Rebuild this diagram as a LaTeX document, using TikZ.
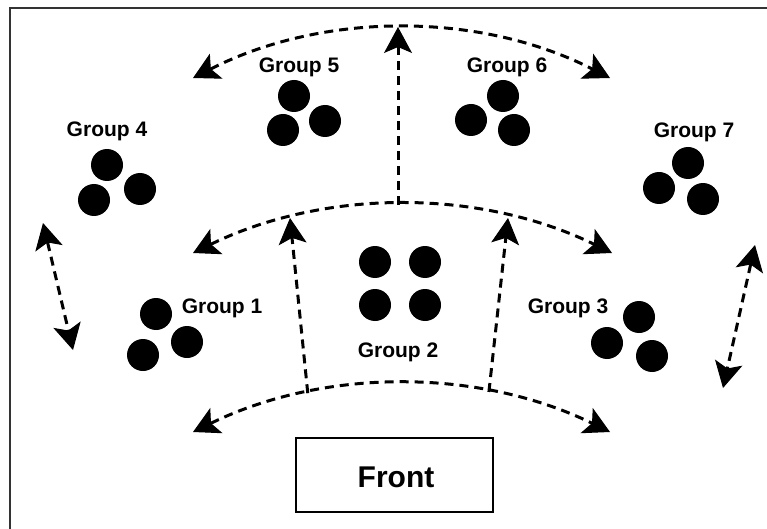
\documentclass[tikz,border=0pt]{standalone}
\usepackage{fontspec}
\setmainfont{Liberation Sans}
\usetikzlibrary{arrows.meta}
\begin{document}
\begin{tikzpicture}[x=1pt,y=-1pt,
  dot/.style={circle,fill=black,minimum size=32pt,inner sep=0pt},
  glabel/.style={font=\fontsize{21}{25}\selectfont\bfseries,inner sep=0pt,anchor=base},
  tipa/.tip={Stealth[length=26pt,width=28pt,inset=6pt,line width=1pt]},
  dashline/.style={line width=3pt,dash pattern=on 9pt off 6pt,line cap=butt},
  arcline/.style={dashline,tipa-tipa},
  frameline/.style={line width=2pt,draw=black!80}]
\useasboundingbox (0,0) rectangle (767,529);
\clip (0,0) rectangle (767,529);
\fill[white] (0,0) rectangle (767,529);
% frame
\coordinate (fbl) at (10,540);
\coordinate (ftl) at (10,8);
\coordinate (ftr) at (780,8);
\draw[frameline] (fbl) -- (ftl) -- (ftr);
% front box
\node[draw,line width=2.8pt,minimum width=197pt,minimum height=74pt,inner sep=0pt] (front) at (394.5,475) {};
\node[font=\fontsize{30}{35}\selectfont\bfseries,inner sep=0pt,anchor=base] (fronttxt) at (396,487) {Front};
% groups
\node[glabel] (l4) at (107,137) {Group 4};
\node[dot] (g4a) at (107,165) {};
\node[dot] (g4b) at (140,189) {};
\node[dot] (g4c) at (94,200) {};
\node[glabel] (l5) at (299,73) {Group 5};
\node[dot] (g5a) at (294,96) {};
\node[dot] (g5b) at (325,121) {};
\node[dot] (g5c) at (283,130) {};
\node[glabel] (l6) at (507,73) {Group 6};
\node[dot] (g6a) at (503,96) {};
\node[dot] (g6b) at (471,120) {};
\node[dot] (g6c) at (514,130) {};
\node[glabel] (l7) at (694,138) {Group 7};
\node[dot] (g7a) at (688,163) {};
\node[dot] (g7b) at (659,188) {};
\node[dot] (g7c) at (703,199) {};
\node[glabel] (l1) at (222,313) {Group 1};
\node[dot] (g1a) at (156,314) {};
\node[dot] (g1b) at (187,342) {};
\node[dot] (g1c) at (143,355) {};
\node[glabel] (l3) at (568,313) {Group 3};
\node[dot] (g3a) at (639,317) {};
\node[dot] (g3b) at (607,343) {};
\node[dot] (g3c) at (652,356) {};
\node[glabel] (l2) at (398,357) {Group 2};
\node[dot] (g2a) at (375,262) {};
\node[dot] (g2b) at (425,262) {};
\node[dot] (g2c) at (375,305) {};
\node[dot] (g2d) at (425,305) {};
% arc end points
\coordinate (tl) at (193,78);
\coordinate (tr) at (610,78);
\coordinate (ttop) at (398,27);
\coordinate (ml) at (193,253);
\coordinate (mr) at (612,253);
\coordinate (mtop) at (398,205);
\coordinate (bl) at (193,432);
\coordinate (br) at (610,432);
\coordinate (vlt) at (290,218);
\coordinate (vrt) at (508,218);
% arcs
\draw[arcline] (tl) to[bend left=27,looseness=0.9] (tr);
\draw[arcline] (ml) to[bend left=26,looseness=0.9] (mr);
\draw[arcline] (bl) to[bend left=26,looseness=0.9] coordinate[pos=0.28] (bfl) coordinate[pos=0.705] (bfr) (br);
% vertical arrows
\draw[dashline,-tipa] (mtop) -- (ttop);
\draw[dashline,-tipa] (bfl) -- (vlt);
\draw[dashline,-tipa] (bfr) -- (vrt);
% side arrows
\coordinate (sl1) at (43,223);
\coordinate (sl2) at (73,350);
\coordinate (sr1) at (755,245);
\coordinate (sr2) at (723,388);
\draw[dashline,tipa-tipa] (sl1) -- (sl2);
\draw[dashline,tipa-tipa] (sr1) -- (sr2);
\end{tikzpicture}
\end{document}
